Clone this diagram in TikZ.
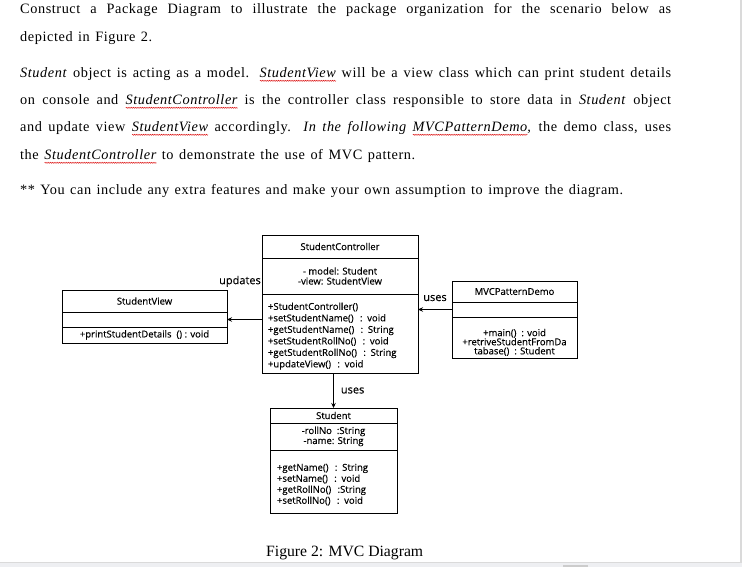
\documentclass[tikz,border=0pt]{standalone}
\usepackage{fontspec}
\usepackage{tikz}
\usetikzlibrary{positioning,calc,arrows.meta,decorations.pathmorphing}
\setmainfont{Liberation Serif}
\newfontfamily\bodyfont{Liberation Serif}[LetterSpace=4.0]
\newfontfamily\umlfont{Open Sans}[FakeBold=0.3]
% uml text size with fixed line distance
\newcommand{\umlsize}[2]{\umlfont\fontsize{#1}{#2}\selectfont\lineskiplimit-4pt\relax}
% red spell-check wave under a word
\newcommand{\sperr}[1]{\setbox0\hbox{#1}\rlap{\raisebox{-2.8pt}{\tikz[baseline=0pt]\draw[red!85!black, line width=0.35pt, decorate,
  decoration={snake, amplitude=0.6pt, segment length=1.8pt}] (0pt,0pt) -- (\wd0,0pt);}}\box0}
% extra room above the first member line
\newcommand{\topgap}[1]{\rule{0pt}{#1}}
\definecolor{edgegray}{HTML}{DADADA}
\definecolor{barfill}{HTML}{EEEFF2}

\begin{document}
\begin{tikzpicture}[x=1pt, y=-1pt, >={Stealth[length=5pt,width=4.5pt]},
    body/.style={anchor=base west, inner sep=0pt, font=\bodyfont\fontsize{14.3}{16}\selectfont},
    umlpart/.style={draw, line width=0.8pt, outer sep=0pt, inner sep=0pt, align=center, font=\umlsize{9.5}{10}},
    members/.style={umlpart, align=left, inner xsep=6pt, font=\umlsize{9.5}{11.5}},
    linklabel/.style={font=\umlfont\fontsize{11}{12}\selectfont, inner sep=1pt}]
  \useasboundingbox (0,0) rectangle (742,567);

  % the exercise text
  \node[body] (line1) at (20,14) {\makebox[651pt][s]{Construct a Package Diagram to illustrate the package organization for the scenario below as}};
  \node[body] (line2) at (20,42) {\makebox[132pt][s]{depicted in Figure 2.}};
  \node[body] (line3) at (20,78) {\makebox[651pt][s]{\textit{Student} object is acting as a model. \textit{\sperr{StudentView}} will be a view class which can print student details}};
  \node[body] (line4) at (20,105) {\makebox[651pt][s]{on console and \textit{\sperr{StudentController}} is the controller class responsible to store data in \textit{Student} object}};
  \node[body] (line5) at (20,132) {\makebox[651pt][s]{and update view \textit{\sperr{StudentView}} accordingly. \textit{In the following \sperr{MVCPatternDemo},} the demo class, uses}};
  \node[body] (line6) at (20,160) {\makebox[395pt][s]{the \textit{\sperr{StudentController}} to demonstrate the use of MVC pattern.}};
  \node[body] (line7) at (20,194) {\makebox[603pt][s]{** You can include any extra features and make your own assumption to improve the diagram.}};

  % StudentController
  \node[umlpart, anchor=north west, minimum width=156pt, minimum height=23pt] (ctrlName) at (262,235) {StudentController};
  \node[umlpart, minimum width=156pt, minimum height=36pt, below=0pt of ctrlName] (ctrlAttr) {- model: Student\\-view: StudentView};
  \node[members, text width=144pt, minimum height=79pt, below=0pt of ctrlAttr] (ctrlOps)
    {\topgap{12.5pt}+StudentController()\\+setStudentName() \ : void\\+getStudentName() \ : String\\+setStudentRollNo() \ : void\\+getStudentRollNo() \ : String\\+updateView() \ : void};

  % StudentView
  \node[umlpart, anchor=north west, minimum width=165pt, minimum height=22pt] (viewName) at (62,290) {StudentView};
  \node[umlpart, minimum width=165pt, minimum height=15pt, below=0pt of viewName] (viewAttr) {};
  \node[umlpart, minimum width=165pt, minimum height=16pt, below=0pt of viewAttr] (viewOps) {+printStudentDetails \ () : void};

  % MVCPatternDemo
  \node[umlpart, anchor=north west, minimum width=125pt, minimum height=21pt] (demoName) at (452,281) {MVCPatternDemo};
  \node[umlpart, minimum width=125pt, minimum height=15pt, below=0pt of demoName] (demoAttr) {};
  \node[umlpart, minimum width=125pt, minimum height=41pt, below=0pt of demoAttr, font=\umlsize{9.5}{9.1}] (demoOps)
    {\topgap{17pt}+main() \ : void\\+retriveStudentFromDa\\tabase() \ : Student};

  % Student
  \node[umlpart, anchor=north west, minimum width=127pt, minimum height=15pt] (studName) at (270,408) {Student};
  \node[umlpart, minimum width=127pt, minimum height=27pt, below=0pt of studName] (studAttr) {-rollNo \ :String\\-name: String};
  \node[members, text width=113pt, inner xsep=7pt, minimum height=63pt, below=0pt of studAttr, font=\umlsize{9.5}{11}] (studOps)
    {\topgap{13pt}+getName() \ : String\\+setName() \ : void\\+getRollNo() \ :String\\+setRollNo() \ : void};

  % links
  \draw[->, line width=0.8pt] (ctrlOps.west |- viewAttr.east) -- (viewAttr.east);
  \node[linklabel, anchor=south east] (updLabel) at ($(ctrlAttr.west |- viewName.north)+(0,-2)$) {updates};
  \draw[->, line width=0.8pt] (demoAttr.west) -- node[linklabel, above=7pt] {uses} (demoAttr.west -| ctrlOps.east);
  \draw[->, line width=0.8pt] (ctrlOps.south -| studName.north) -- node[linklabel, right=6pt] {uses} (studName.north);

  \node[anchor=base west, inner sep=0pt, font=\fontsize{15.7}{17}\selectfont] (caption) at (266,556) {Figure 2: MVC Diagram};

  % window edges
  \fill[edgegray] (739.5,0) rectangle (742,562.5);
  \fill[barfill] (0,562.5) rectangle (742,567);
  \draw[edgegray, line width=0.8pt] (0,562.5) -- (742,562.5);
  \fill[gray!40] (563,564.5) rectangle (588,567);
\end{tikzpicture}
\end{document}
